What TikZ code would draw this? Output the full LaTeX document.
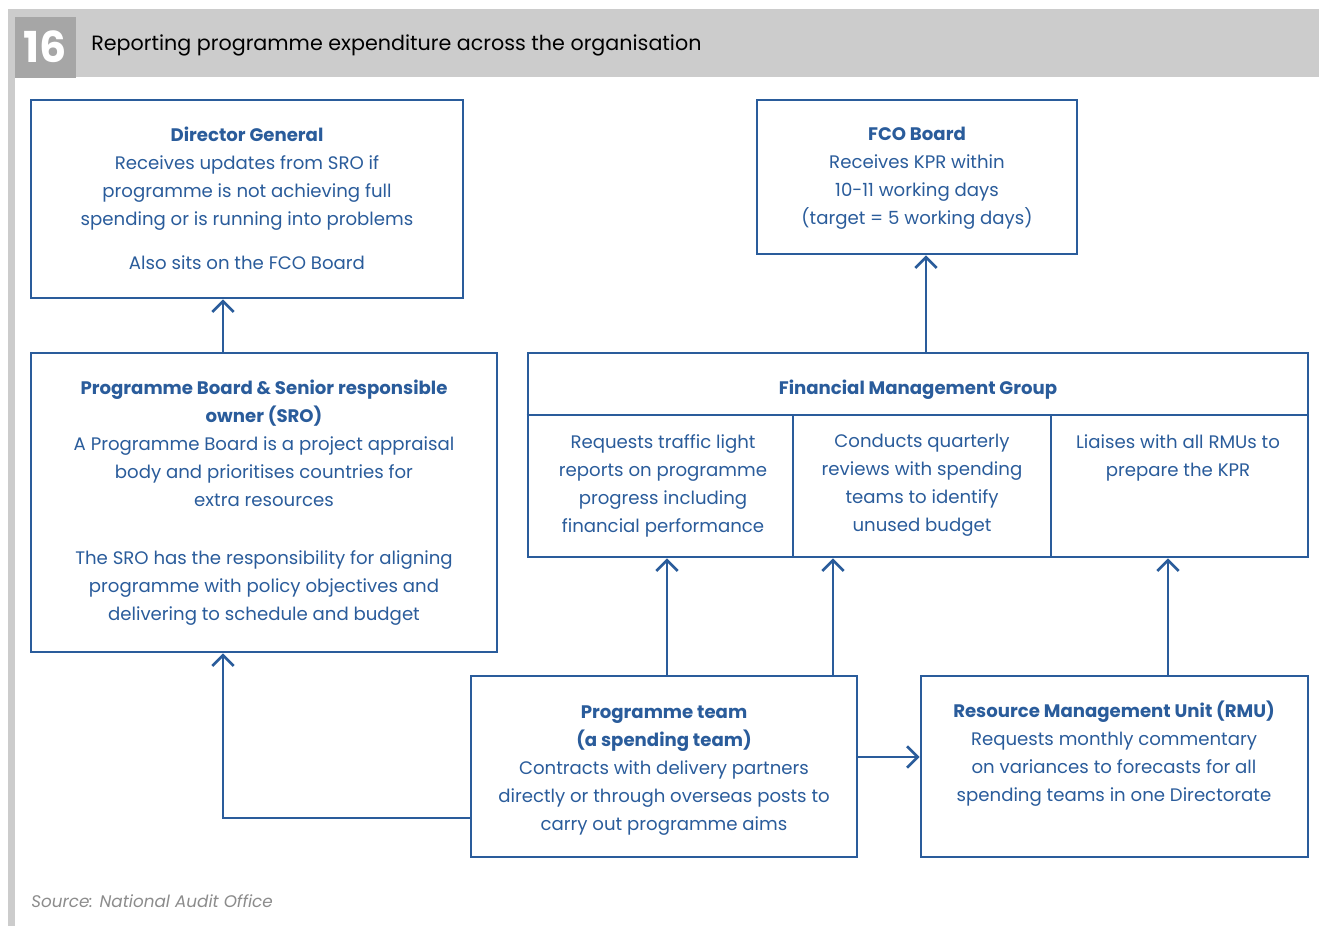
\documentclass[tikz,border=0pt]{standalone}
\usepackage{fontspec}
\setmainfont{Poppins}
\usetikzlibrary{arrows.meta}
\definecolor{navy}{RGB}{42,92,155}
\definecolor{bandgrey}{RGB}{204,204,204}
\definecolor{numgrey}{RGB}{166,166,166}
\definecolor{srcgrey}{RGB}{140,140,140}
\newcommand\pxl[1]{#1*0.75pt}
\tikzset{
  box/.style={draw=navy, line width=2pt, fill=white, inner sep=0pt},
  body/.style={text=navy, align=center, inner sep=0pt,
    font=\fontsize{13.6pt}{21pt}\selectfont},
  conn/.style={draw=navy, line width=2pt, -{Straight Barb[length=8pt,width=16pt,line width=2pt]}},
  rule/.style={draw=navy, line width=2pt},
}
\begin{document}
\begin{tikzpicture}[x=0.75pt,y=-0.75pt]
\useasboundingbox (0,0) rectangle (1319,926);
% page background, header band and left rule
\fill[white] (0,0) rectangle (1319,926);
\fill[bandgrey] (8,9) rectangle (1319,77);
\fill[bandgrey] (8,77) rectangle (15,926);
\node[fill=numgrey, minimum width=\pxl{61}, minimum height=\pxl{61}, inner sep=0pt,
  text=white, font=\fontsize{32pt}{32pt}\selectfont\bfseries] (num) at (45.5,47) {16};
\node[anchor=west, inner sep=0pt, font=\fontsize{15.5pt}{18pt}\selectfont] (title) at (91,45)
  {Reporting programme expenditure across the organisation};

% boxes
\node[box, minimum width=\pxl{432}, minimum height=\pxl{198}] (dg) at (247,199) {};
\node[body] (dgtxt) at (247,198) {\textbf{Director General}\\Receives updates from SRO if\\programme is not achieving full\\spending or is running into problems\\[12pt]Also sits on the FCO Board};

\node[box, minimum width=\pxl{320}, minimum height=\pxl{154}] (fco) at (917,177) {};
\node[body] (fcotxt) at (917,178) {\textbf{FCO Board}\\Receives KPR within\\10-11 working days\\(target = 5 working days)};

\node[box, minimum width=\pxl{466}, minimum height=\pxl{299}] (pb) at (264,502.5) {};
\node[body] (pbtxt) at (264,502.5) {\textbf{Programme Board \& Senior responsible}\\\textbf{owner (SRO)}\\A Programme Board is a project appraisal\\body and prioritises countries for\\extra resources\\[22.5pt]The SRO has the responsibility for aligning\\programme with policy objectives and\\delivering to schedule and budget};

\node[box, minimum width=\pxl{780}, minimum height=\pxl{204}] (fmg) at (918,455) {};
\coordinate (hline) at (0,415);
\coordinate (colA) at (793,0);
\coordinate (colB) at (1051,0);
\draw[rule] (fmg.west |- hline) -- (fmg.east |- hline);
\draw[rule] (colA |- hline) -- (colA |- fmg.south);
\draw[rule] (colB |- hline) -- (colB |- fmg.south);
\node[body] (fmgtxt) at (918,390) {\textbf{Financial Management Group}};
\node[body, anchor=north] (fmgA) at (663,434) {Requests traffic light\\reports on programme\\progress including\\financial performance};
\node[body, anchor=north] (fmgB) at (922,434) {Conducts quarterly\\reviews with spending\\teams to identify\\unused budget};
\node[body, anchor=north] (fmgC) at (1178,434) {Liaises with all RMUs to\\prepare the KPR};

\node[box, minimum width=\pxl{386}, minimum height=\pxl{181}] (pt) at (664,766.5) {};
\node[body, anchor=north] (pttxt) at (664,705) {\textbf{Programme team}\\\textbf{(a spending team)}\\Contracts with delivery partners\\directly or through overseas posts to\\carry out programme aims};

\node[box, minimum width=\pxl{387}, minimum height=\pxl{181}] (rmu) at (1114.5,766.5) {};
\node[body, anchor=north] (rmutxt) at (1114,701) {\textbf{Resource Management Unit (RMU)}\\Requests monthly commentary\\on variances to forecasts for all\\spending teams in one Directorate};

% connectors
\coordinate (xL) at (223,0);
\coordinate (xF) at (926,0);
\coordinate (xP1) at (667,0);
\coordinate (xP2) at (833,0);
\coordinate (xR) at (1168,0);
\coordinate (yLow) at (0,818);
\coordinate (yMid) at (0,757);
\draw[conn] (pb.north -| xL) -- (dg.south -| xL);
\draw[conn] (fmg.north -| xF) -- (fco.south -| xF);
\draw[conn] (pt.north -| xP1) -- (fmg.south -| xP1);
\draw[conn] (pt.north -| xP2) -- (fmg.south -| xP2);
\draw[conn] (rmu.north -| xR) -- (fmg.south -| xR);
\draw[conn] (pt.west |- yLow) -| (pb.south -| xL);
\draw[conn] (pt.east |- yMid) -- (rmu.west |- yMid);

% source line
\node[anchor=west, inner sep=0pt, text=srcgrey, font=\fontsize{12.6pt}{14pt}\selectfont\itshape] (src) at (31,901) {Source: National Audit Office};
\end{tikzpicture}
\end{document}
